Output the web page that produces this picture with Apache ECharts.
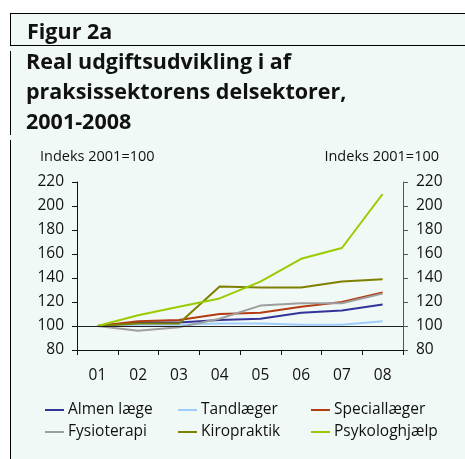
<!DOCTYPE html>
<html><head><meta charset="utf-8">
<script src="https://cdn.jsdelivr.net/npm/echarts@6/dist/echarts.min.js"></script>
<style>html,body{margin:0;padding:0;background:#fff}#c{width:465px;height:459px}</style>
</head><body><div id="c"></div>
<script>
var categories = ['01','02','03','04','05','06','07','08'];
var seriesNames = ['Almen læge','Tandlæger','Speciallæger','Fysioterapi','Kiropraktik','Psykologhjælp'];
var almen = [100,103,103,105,106,111,113,118];
var tand = [100,101,101,102,102,101,101,104];
var special = [100,104,105,110,111,116,120,128];
var fysio = [100,96,99,106,117,119,119,127];
var kiro = [100,102,102,133,132,132,137,139];
var psyko = [100,109,116,123,137,156,165,210];
var yTicks = {min:80, max:220, interval:20};
var colors = ['#33339a','#9fcdfb','#b33d12','#9e9e9e','#7f7f00','#99cc00'];
var allData = [almen,tand,special,fysio,kiro,psyko];

var FONT = '"Open Sans", "Noto Sans", sans-serif';
var chart = echarts.init(document.getElementById('c'), null, {renderer:'canvas'});
var series = allData.map(function(d,i){
  return {name:seriesNames[i], type:'line', data:d, symbol:'none', yAxisIndex:0,
    lineStyle:{width:2, color:colors[i]}, itemStyle:{color:colors[i]}, z: 3};
});
series.unshift({type:'line', data:[], name:'ref', silent:true,
  markLine:{silent:true, symbol:'none', label:{show:false},
    lineStyle:{color:'#222', width:1, type:'solid'}, data:[{yAxis:100}]}, z:2});
var legendPos = [[45,402],[178,402],[311,402],[45,424],[178,424],[311,424]];
var legends = seriesNames.map(function(n,i){
  return {data:[n], left:legendPos[i][0], top:legendPos[i][1], padding:0, itemWidth:19, itemHeight:2,
    icon:'rect', selectedMode:false,
    textStyle:{fontFamily:FONT, fontSize:15.5, color:'#111', padding:[0,0,0,-1]}};
});
chart.setOption({
  backgroundColor:'#f1f9f6',
  animation:false,
  title:[
    {text:'Figur 2a', left:27, top:22, padding:0, textStyle:{fontFamily:FONT, fontWeight:'bold', fontSize:21.5, color:'#111'}},
    {text:'Real udgiftsudvikling i af\npraksissektorens delsektorer,\n2001-2008', left:26, top:48, padding:0,
      textStyle:{fontFamily:FONT, fontWeight:'bold', fontSize:21.5, lineHeight:30, color:'#111'}},
    {text:'Indeks 2001=100', left:40, top:149, padding:0, textStyle:{fontFamily:FONT, fontWeight:'normal', fontSize:14.5, color:'#111'}},
    {text:'Indeks 2001=100', right:26, top:149, padding:0, textStyle:{fontFamily:FONT, fontWeight:'normal', fontSize:14.5, color:'#111'}}
  ],
  legend:legends,
  grid:{left:77, right:62, top:182, bottom:109},
  xAxis:{type:'category', data:categories, boundaryGap:true,
    axisLine:{lineStyle:{color:'#111', width:1}},
    axisTick:{show:true, length:5, lineStyle:{color:'#111'}},
    axisLabel:{fontFamily:FONT, fontSize:15.5, color:'#111', margin:18}},
  yAxis:[
    {type:'value', position:'left', min:yTicks.min, max:yTicks.max, interval:yTicks.interval,
      axisLine:{show:true, lineStyle:{color:'#111'}}, axisTick:{show:true, length:5, lineStyle:{color:'#111'}},
      splitLine:{show:false}, axisLabel:{fontFamily:FONT, fontSize:15.5, color:'#111', margin:13}},
    {type:'value', position:'right', min:yTicks.min, max:yTicks.max, interval:yTicks.interval,
      axisLine:{show:true, lineStyle:{color:'#555'}}, axisTick:{show:true, length:5, lineStyle:{color:'#555'}},
      splitLine:{show:false}, axisLabel:{fontFamily:FONT, fontSize:15.5, color:'#111', margin:13}}
  ],
  graphic:[
    {type:'rect', shape:{x:0,y:0,width:465,height:13}, style:{fill:'#fff'}, z:-1},
    {type:'rect', shape:{x:0,y:0,width:10,height:459}, style:{fill:'#fff'}, z:-1},
    {type:'line', shape:{x1:10, y1:13.5, x2:465, y2:13.5}, style:{stroke:'#000', lineWidth:1}},
    {type:'line', shape:{x1:10, y1:45.5, x2:465, y2:45.5}, style:{stroke:'#000', lineWidth:1}},
    {type:'line', shape:{x1:10.5, y1:13, x2:10.5, y2:45}, style:{stroke:'#000', lineWidth:1}},
    {type:'line', shape:{x1:10.5, y1:51, x2:10.5, y2:135}, style:{stroke:'#000', lineWidth:1}},
    {type:'line', shape:{x1:10.5, y1:140, x2:10.5, y2:459}, style:{stroke:'#000', lineWidth:1}}
  ],
  series:series
});
</script></body></html>
